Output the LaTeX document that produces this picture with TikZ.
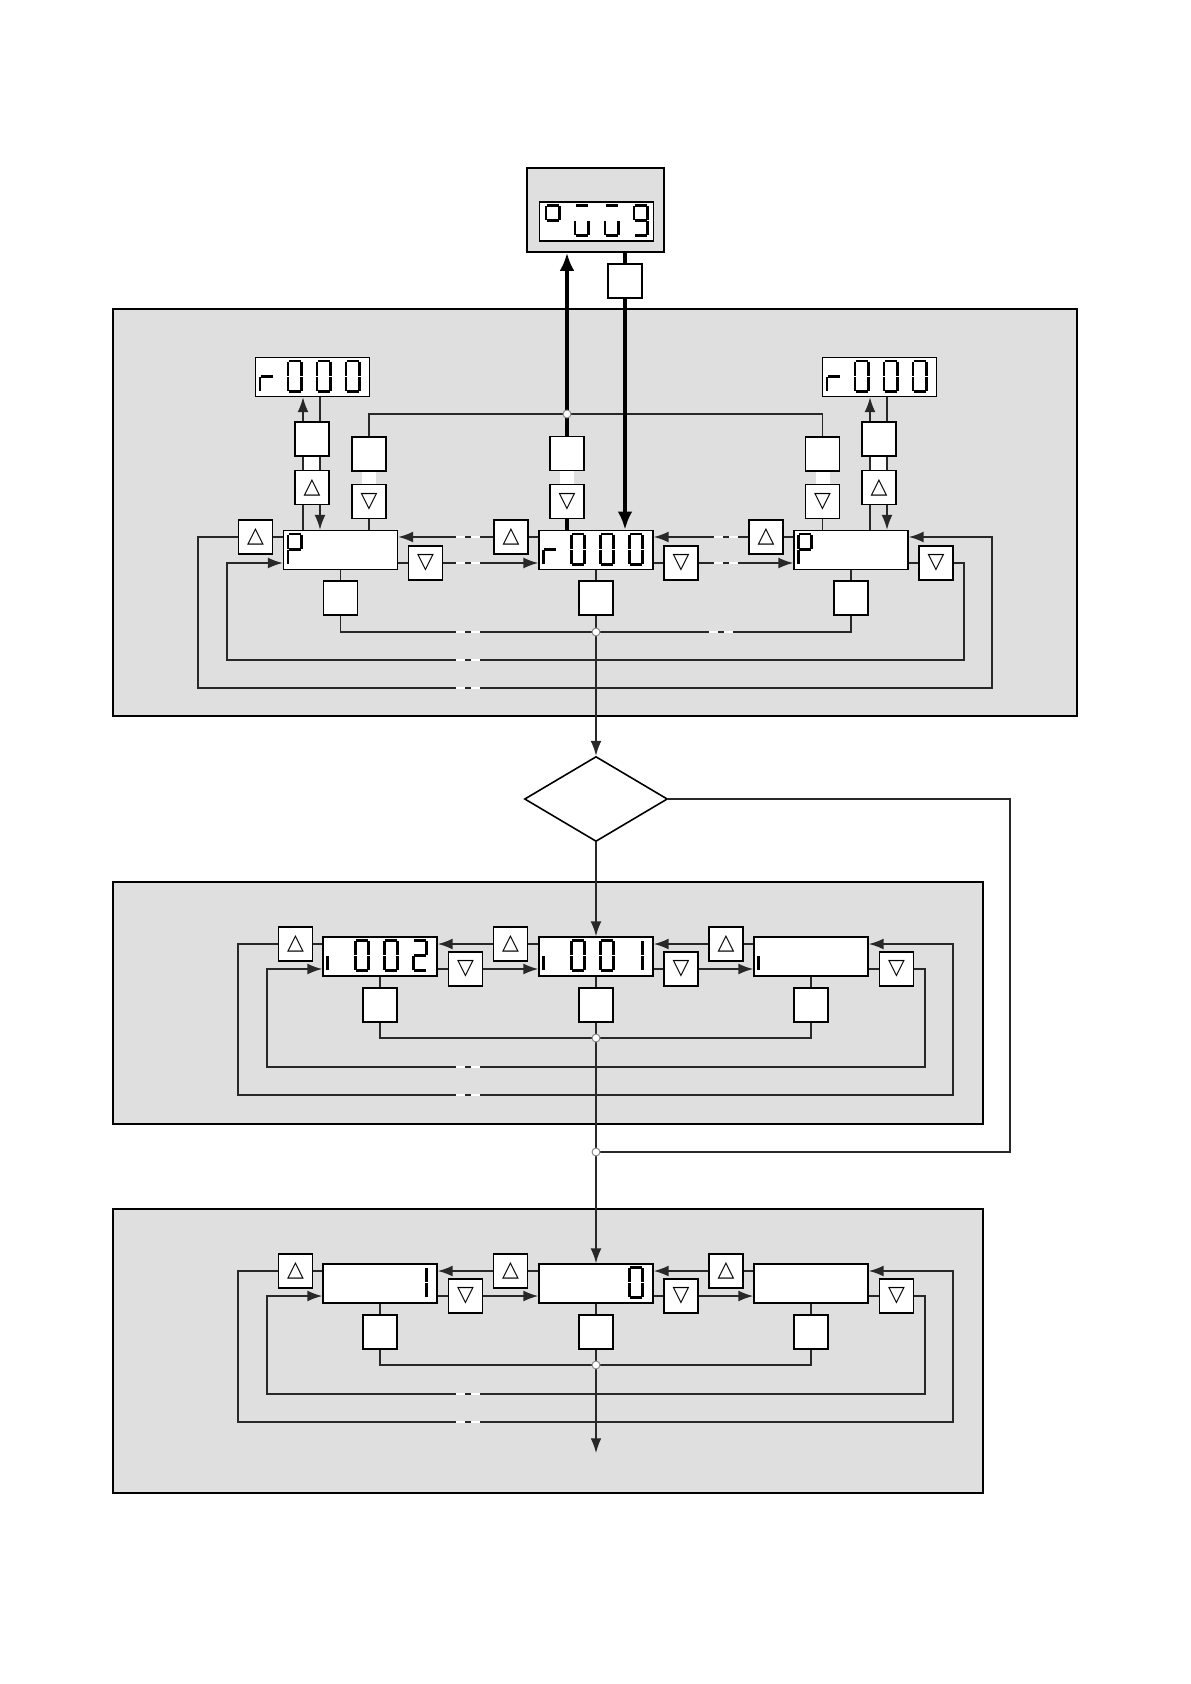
\documentclass[tikz,border=0pt]{standalone}
\usepackage{fontspec}
\newfontfamily\keysym{DejaVu Sans}
\usetikzlibrary{arrows.meta,calc,positioning,shapes.geometric}
\definecolor{PanelGray}{RGB}{223,223,223}
\definecolor{WireGray}{RGB}{40,40,40}
\newcommand\pxu{0.17647mm}
% seven segment pieces, 16 x 33 cell
\newcommand\lcdsega{(2.2,1.3)--(13.8,1.3)}
\newcommand\lcdsegb{(14.7,2.2)--(14.7,15.8)}
\newcommand\lcdsegc{(14.7,17.2)--(14.7,30.8)}
\newcommand\lcdsegd{(2.2,31.7)--(13.8,31.7)}
\newcommand\lcdsege{(1.3,17.2)--(1.3,30.8)}
\newcommand\lcdsegf{(1.3,2.2)--(1.3,15.8)}
\newcommand\lcdsegg{(2.2,16.5)--(13.8,16.5)}
\newcommand\lcdnum[3]{%
  \begin{scope}[shift={($(#1.north west)+#2$)}]
    \foreach \sg in {#3}{\draw[lcdseg] \csname lcdseg\sg\endcsname;}
  \end{scope}}
\pgfdeclarelayer{panels}
\pgfdeclarelayer{wires}
\pgfsetlayers{panels,wires,main}

\begin{document}
\begin{tikzpicture}[x=0.17647mm,y=-0.17647mm,>={Latex[length=2.6mm,width=1.9mm]},
  lcdbox/.style={draw,fill=white,line width=0.8pt,inner sep=0pt,
    minimum width=114*\pxu,minimum height=39*\pxu},
  keybox/.style={draw,fill=white,line width=0.8pt,inner sep=0pt,
    minimum size=34*\pxu,font=\keysym\fontsize{11}{11}\selectfont},
  wire/.style={draw=WireGray,line width=0.7pt},
  heavy/.style={draw=black,line width=1.8pt},
  junc/.style={circle,draw=black!45,fill=white,inner sep=0pt,
    minimum size=1.4mm,line width=0.5pt},
  brk/.style={draw=white,line width=1.3pt,dash pattern=on 4.5pt off 3pt},
  lcdseg/.style={line width=1.45pt,line cap=butt},
  panel/.style={fill=PanelGray,draw=black,line width=0.6pt}]
\useasboundingbox (0,0) rectangle (1190,1684);

\begin{pgfonlayer}{panels}
  \fill[white] (0,0) rectangle (1190,1684);
  \draw[panel] (113,309) rectangle (1077,716);
  \draw[panel] (113,882) rectangle (983,1124);
  \draw[panel] (113,1209) rectangle (983,1493);
\end{pgfonlayer}

% top display
\node[draw,fill=PanelGray,line width=0.7pt,inner sep=0pt,
  minimum width=137*\pxu,minimum height=84*\pxu] (p9) at (595.5,210) {};
\node[lcdbox] (d9) at (596.5,221.5) {};
\node[keybox] (k9) at (625,281) {};

% row 1
\node[lcdbox] (rL) at (312.5,377) {};
\node[lcdbox] (rR) at (879.5,377) {};
\node[lcdbox] (pL) at (340.5,550) {};
\node[lcdbox] (dC) at (596,550) {};
\node[lcdbox] (pR) at (851,550) {};
\node[keybox] (kLa) at (312,439) {};
\node[keybox] (kLb) at (312,487.5) {△};
\node[keybox] (kL2a) at (369,454) {};
\node[keybox] (kL2b) at (369,501.5) {▽};
\node[keybox] (kCa) at (567,453.5) {};
\node[keybox] (kCb) at (567,501.5) {▽};
\node[keybox] (kR2a) at (822.5,454) {};
\node[keybox] (kR2b) at (822.5,501.5) {▽};
\node[keybox] (kRa) at (879,439) {};
\node[keybox] (kRb) at (879,487.5) {△};
\node[keybox] (kLu) at (255.5,537) {△};
\node[keybox] (kLd) at (425.5,563) {▽};
\node[keybox] (kCu) at (511,537) {△};
\node[keybox] (kCd) at (681,563) {▽};
\node[keybox] (kRu) at (766,537) {△};
\node[keybox] (kRd) at (936,563) {▽};
\node[keybox] (kLe) at (340.5,598) {};
\node[keybox] (kCe) at (596,598) {};
\node[keybox] (kRe) at (851,598) {};
\coordinate (jT) at (567,414);
\coordinate (jB) at (596,632);
\coordinate (oSW) at (198,688);
\coordinate (oSE) at (992,688);
\coordinate (iSW) at (227,660);
\coordinate (iSE) at (964,660);

% decision
\node[draw,diamond,line width=0.8pt,inner sep=0pt,
  minimum width=143*\pxu,minimum height=85*\pxu] (dia) at (596,799) {};
\coordinate (cR) at (1010,1152);
\coordinate (jM) at (596,1152);

% row 2
\node[lcdbox] (qL) at (380,956.5) {};
\node[lcdbox] (qC) at (596,956.5) {};
\node[lcdbox] (qR) at (811,956.5) {};
\node[keybox] (kQLu) at (295.5,944) {△};
\node[keybox] (kQCu) at (510.5,944) {△};
\node[keybox] (kQRu) at (726,944) {△};
\node[keybox] (kQLd) at (465.5,969) {▽};
\node[keybox] (kQCd) at (681,969) {▽};
\node[keybox] (kQRd) at (896.5,969) {▽};
\node[keybox] (kQLe) at (380,1005) {};
\node[keybox] (kQCe) at (596,1005) {};
\node[keybox] (kQRe) at (811,1005) {};
\coordinate (jQ) at (596,1038);
\coordinate (qoSW) at (238,1095);
\coordinate (qoSE) at (953,1095);
\coordinate (qiSW) at (267,1067);
\coordinate (qiSE) at (925,1067);

% row 3
\node[lcdbox] (sL) at (380,1283.5) {};
\node[lcdbox] (sC) at (596,1283.5) {};
\node[lcdbox] (sR) at (811,1283.5) {};
\node[keybox] (kSLu) at (295.5,1271) {△};
\node[keybox] (kSCu) at (510.5,1271) {△};
\node[keybox] (kSRu) at (726,1271) {△};
\node[keybox] (kSLd) at (465.5,1296) {▽};
\node[keybox] (kSCd) at (681,1296) {▽};
\node[keybox] (kSRd) at (896.5,1296) {▽};
\node[keybox] (kSLe) at (380,1332) {};
\node[keybox] (kSCe) at (596,1332) {};
\node[keybox] (kSRe) at (811,1332) {};
\coordinate (jS) at (596,1365);
\coordinate (soSW) at (238,1422);
\coordinate (soSE) at (953,1422);
\coordinate (siSW) at (267,1394);
\coordinate (siSE) at (925,1394);
\coordinate (sEnd) at (596,1453);

\begin{pgfonlayer}{wires}
  % row 1, vertical
  \draw[wire,->] ($(kLa |- pL.north)+(-9,0)$) -- ($(kLa |- rL.south)+(-9,0)$);
  \draw[wire,->] ($(kLa |- rL.south)+(8,0)$) -- ($(kLa |- pL.north)+(8,0)$);
  \draw[wire,->] ($(kRa |- pR.north)+(-9,0)$) -- ($(kRa |- rR.south)+(-9,0)$);
  \draw[wire,->] ($(kRa |- rR.south)+(8,0)$) -- ($(kRa |- pR.north)+(8,0)$);
  \draw[wire] (pL.north -| kL2a) |- (jT) -| (pR.north -| kR2a);
  \draw[heavy,-{Latex[length=3.2mm,width=2.6mm]}] (kCa |- dC.north) -- (kCa |- p9.south);
  \draw[heavy,-{Latex[length=3.2mm,width=2.6mm]}] (k9 |- p9.south) -- (k9 |- dC.north);
  % row 1, horizontal
  \draw[wire,->] (pL.west |- kLu) -- (kLu) -| (oSW) -- (oSE) |- (pR.east |- kLu);
  \draw[wire,->] (pR.east |- kRd) -- (kRd) -| (iSE) -- (iSW) |- (pL.west |- kRd);
  \draw[wire,->] (dC.west |- kCu) -- (kCu) -- (pL.east |- kCu);
  \draw[wire,->] (pL.east |- kLd) -- (kLd) -- (dC.west |- kLd);
  \draw[wire,->] (pR.west |- kRu) -- (kRu) -- (dC.east |- kRu);
  \draw[wire,->] (dC.east |- kCd) -- (kCd) -- (pR.west |- kCd);
  \draw[wire] (pL) -- (kLe) |- (jB) -| (kRe) -- (pR);
  \draw[wire,->] (dC) -- (kCe) -- (dia);
  % decision
  \draw[wire] (dia.east) -| (cR) -- (jM);
  \draw[wire,->] (dia) -- (qC);
  % row 2
  \draw[wire,->] (qL.west |- kQLu) -- (kQLu) -| (qoSW) -- (qoSE) |- (qR.east |- kQLu);
  \draw[wire,->] (qR.east |- kQRd) -- (kQRd) -| (qiSE) -- (qiSW) |- (qL.west |- kQRd);
  \draw[wire,->] (qC.west |- kQCu) -- (kQCu) -- (qL.east |- kQCu);
  \draw[wire,->] (qL.east |- kQLd) -- (kQLd) -- (qC.west |- kQLd);
  \draw[wire,->] (qR.west |- kQRu) -- (kQRu) -- (qC.east |- kQRu);
  \draw[wire,->] (qC.east |- kQCd) -- (kQCd) -- (qR.west |- kQCd);
  \draw[wire] (qL) -- (kQLe) |- (jQ) -| (kQRe) -- (qR);
  \draw[wire,->] (qC) -- (kQCe) -- (sC);
  % row 3
  \draw[wire,->] (sL.west |- kSLu) -- (kSLu) -| (soSW) -- (soSE) |- (sR.east |- kSLu);
  \draw[wire,->] (sR.east |- kSRd) -- (kSRd) -| (siSE) -- (siSW) |- (sL.west |- kSRd);
  \draw[wire,->] (sC.west |- kSCu) -- (kSCu) -- (sL.east |- kSCu);
  \draw[wire,->] (sL.east |- kSLd) -- (kSLd) -- (sC.west |- kSLd);
  \draw[wire,->] (sR.west |- kSRu) -- (kSRu) -- (sC.east |- kSRu);
  \draw[wire,->] (sC.east |- kSCd) -- (kSCd) -- (sR.west |- kSCd);
  \draw[wire] (sL) -- (kSLe) |- (jS) -| (kSRe) -- (sR);
  \draw[wire,->] (sC) -- (kSCe) -- (sEnd);
\end{pgfonlayer}

% white links between stacked keys
\fill[white] ($(kLa.south)+(-8,0)$) rectangle ($(kLb.north)+(7,0)$);
\fill[white] ($(kL2a.south)+(-7,0)$) rectangle ($(kL2b.north)+(7,0)$);
\fill[white] ($(kCa.south)+(-7,0)$) rectangle ($(kCb.north)+(7,0)$);
\fill[white] ($(kR2a.south)+(-7,0)$) rectangle ($(kR2b.north)+(7,0)$);
\fill[white] ($(kRa.south)+(-8,0)$) rectangle ($(kRb.north)+(7,0)$);

% breaks in the long lines
\foreach \yy in {537,563,632,660,688,1067,1095,1394,1422}
  \draw[brk] (456,\yy) -- (480,\yy);
\foreach \yy in {537,563}
  \draw[brk] (714,\yy) -- (738,\yy);
\draw[brk] (709,632) -- (733,632);

% junctions
\node[junc] (jTn) at (jT) {};
\node[junc] (jBn) at (jB) {};
\node[junc] (jMn) at (jM) {};
\node[junc] (jQn) at (jQ) {};
\node[junc] (jSn) at (jS) {};

% display digits
\lcdnum{d9}{(6,3)}{a,b,f,g}
\lcdnum{d9}{(35,3)}{a,c,d,e}
\lcdnum{d9}{(65,3)}{a,c,d,e}
\lcdnum{d9}{(94,3)}{a,b,c,d,f,g}
\lcdnum{rL}{(4,3)}{e,g}
\lcdnum{rL}{(32,3)}{a,b,c,d,e,f}
\lcdnum{rL}{(61,3)}{a,b,c,d,e,f}
\lcdnum{rL}{(90,3)}{a,b,c,d,e,f}
\lcdnum{rR}{(4,3)}{e,g}
\lcdnum{rR}{(32,3)}{a,b,c,d,e,f}
\lcdnum{rR}{(61,3)}{a,b,c,d,e,f}
\lcdnum{rR}{(90,3)}{a,b,c,d,e,f}
\lcdnum{dC}{(4,3)}{e,g}
\lcdnum{dC}{(32,3)}{a,b,c,d,e,f}
\lcdnum{dC}{(61,3)}{a,b,c,d,e,f}
\lcdnum{dC}{(90,3)}{a,b,c,d,e,f}
\lcdnum{pL}{(4,3)}{a,b,e,f,g}
\lcdnum{pR}{(4,3)}{a,b,e,f,g}
\lcdnum{qL}{(4,3)}{e}
\lcdnum{qL}{(32,3)}{a,b,c,d,e,f}
\lcdnum{qL}{(61,3)}{a,b,c,d,e,f}
\lcdnum{qL}{(90,3)}{a,b,g,e,d}
\lcdnum{qC}{(4,3)}{e}
\lcdnum{qC}{(32,3)}{a,b,c,d,e,f}
\lcdnum{qC}{(61,3)}{a,b,c,d,e,f}
\lcdnum{qC}{(90,3)}{b,c}
\lcdnum{qR}{(4,3)}{e}
\lcdnum{sL}{(90,3)}{b,c}
\lcdnum{sC}{(90,3)}{a,b,c,d,e,f}
\end{tikzpicture}
\end{document}
